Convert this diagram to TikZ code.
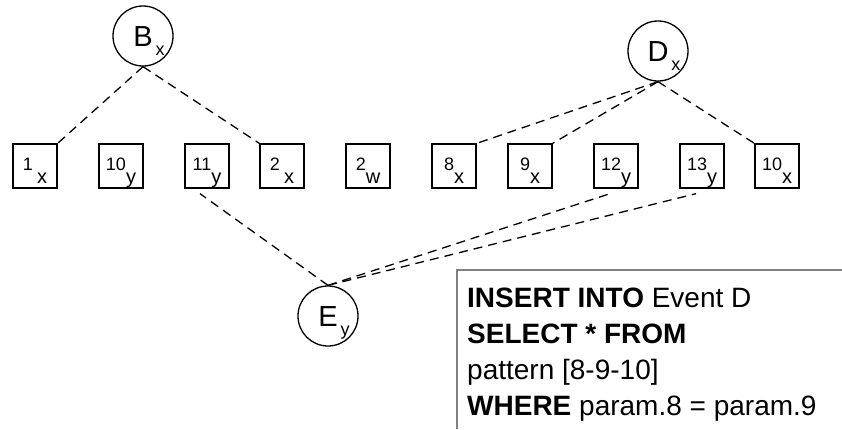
\documentclass[tikz,border=0pt]{standalone}
\usepackage{fontspec}
\setmainfont{Liberation Sans}
\usetikzlibrary{calc}
\newcommand\evlab[2]{\raisebox{-4pt}{\fontsize{18}{18}\selectfont #1\raisebox{-13pt}{\fontsize{20}{20}\selectfont #2}}}
\newcommand\cirlab[2]{\raisebox{-10pt}{\fontsize{29}{29}\selectfont #1\rlap{\hspace{3pt}\raisebox{-9pt}{\fontsize{18}{18}\selectfont #2}}}}
\begin{document}
\begin{tikzpicture}[x=1pt,y=-1pt,
  evbox/.style={draw,line width=1.3pt,minimum width=44pt,minimum height=44pt,inner sep=0pt,text height=0pt,text depth=0pt},
  evcirc/.style={draw,circle,line width=1.3pt,minimum size=60pt,inner sep=0pt,text height=0pt,text depth=0pt},
  link/.style={line width=1.3pt,dash pattern=on 9pt off 6pt},
  sqlborder/.style={draw=black!50,line width=1.5pt}]
\useasboundingbox (0,0) rectangle (842,429);
% events
\node[evbox] (b1)  at (35,166)  {\evlab{1\hspace{4pt}}{x}};
\node[evbox] (b2)  at (121,166) {\evlab{10}{y}};
\node[evbox] (b3)  at (207,166) {\evlab{11}{y}};
\node[evbox] (b4)  at (282,166) {\evlab{2\hspace{4pt}}{x}};
\node[evbox] (b5)  at (368,166) {\evlab{2}{w}};
\node[evbox] (b6)  at (454,166) {\evlab{8}{x}};
\node[evbox] (b7)  at (530,166) {\evlab{9}{x}};
\node[evbox] (b8)  at (616,166) {\evlab{12}{y}};
\node[evbox] (b9)  at (702,166) {\evlab{13}{y}};
\node[evbox] (b10) at (777,166) {\evlab{10}{x}};
% complex events
\node[evcirc] (B) at (143,36)  {\cirlab{B}{x}};
\node[evcirc] (D) at (658,51)  {\cirlab{D}{x}};
\node[evcirc] (E) at (328,316) {\cirlab{E}{y}};
% links
\draw[link] (B.south) -- (b1.north east);
\draw[link] (B.south) -- (b4.north west);
\draw[link] (D.south) -- (b6.north east);
\draw[link] (D.south) -- (b7.north east);
\draw[link] (D.south) -- (b10.north west);
\draw[link] (E.north) -- ([shift={(-7,5)}]b3.south);
\draw[link] (E.north) -- ([shift={(-6,5)}]b8.south);
\draw[link] (E.north) -- ([shift={(-6,5)}]b9.south);
% query
\draw[sqlborder] (457,429) |- (842,270);
\node[anchor=north west,align=left,inner sep=0pt,font=\fontsize{28}{36}\selectfont] (sql) at (467,288)
  {\textbf{INSERT INTO} Event D\\
   \textbf{SELECT * FROM}\\
   pattern [8-9-10]\\
   \textbf{WHERE} param.8 = param.9};
\end{tikzpicture}
\end{document}
